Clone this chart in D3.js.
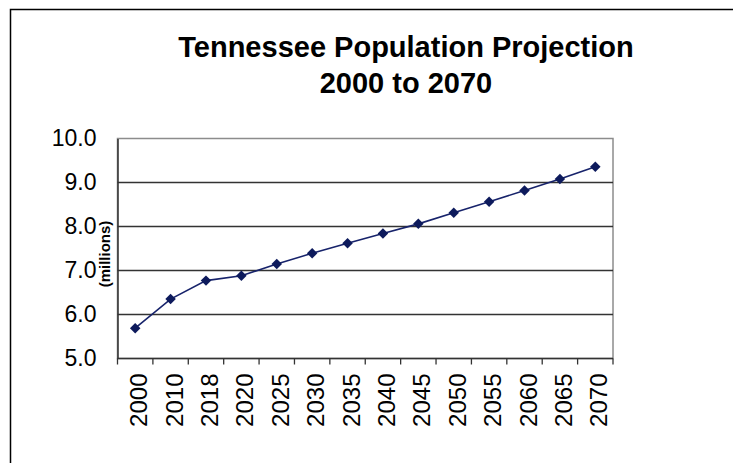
<!DOCTYPE html>
<html>
<head>
<meta charset="utf-8">
<script src="https://cdn.jsdelivr.net/npm/d3@7"></script>
<style>
  html, body { margin: 0; padding: 0; background: #fff; }
  #container { width: 733px; height: 463px; }
  text { font-family: "Liberation Sans", Arial, sans-serif; }
</style>
</head>
<body>
<div id="container"></div>
<script>
const years = ["2000", "2010", "2018", "2020", "2025", "2030", "2035", "2040", "2045", "2050", "2055", "2060", "2065", "2070"];
const population = [5.69, 6.35, 6.77, 6.88, 7.15, 7.39, 7.62, 7.84, 8.06, 8.31, 8.56, 8.82, 9.08, 9.36];
const yTicks = [5, 6, 7, 8, 9, 10];
const titleLines = ["Tennessee Population Projection", "2000 to 2070"];

const W = 733, H = 463;
const margin = {top: 138.5, right: 120, bottom: 104.5, left: 117.5};
const width = W - margin.left - margin.right;
const height = H - margin.top - margin.bottom;

const root = d3.select("#container")
  .append("svg")
  .attr("width", W)
  .attr("height", H);

// outer chart frame (runs off right and bottom edge)
root.append("rect")
  .attr("x", 10.5)
  .attr("y", 9.5)
  .attr("width", W + 20)
  .attr("height", H + 20)
  .attr("fill", "none")
  .attr("stroke", "#000")
  .attr("stroke-width", 1.5);

root.selectAll(".title")
  .data(titleLines)
  .enter()
  .append("text")
  .attr("x", 406)
  .attr("y", (d, i) => 57 + i * 36)
  .attr("text-anchor", "middle")
  .attr("font-size", "29px")
  .attr("font-weight", "bold")
  .attr("fill", "#000")
  .text(d => d);

const svg = root.append("g")
  .attr("transform", `translate(${margin.left},${margin.top})`);

const x = d3.scaleBand()
  .domain(years)
  .range([0, width]);

const y = d3.scaleLinear()
  .domain([5, 10])
  .range([height, 0]);

// plot area border (top/right grey)
svg.append("rect")
  .attr("x", 0)
  .attr("y", 0)
  .attr("width", width)
  .attr("height", height)
  .attr("fill", "none")
  .attr("stroke", "#8c8c8c")
  .attr("stroke-width", 1.5);

// gridlines
svg.selectAll(".grid")
  .data(yTicks.slice(1, -1))
  .enter()
  .append("line")
  .attr("x1", 0)
  .attr("x2", width)
  .attr("y1", d => y(d))
  .attr("y2", d => y(d))
  .attr("stroke", "#333")
  .attr("stroke-width", 1.3);

// y axis
const yAxis = svg.append("g")
  .call(d3.axisLeft(y).tickValues(yTicks).tickFormat(d3.format(".1f")).tickSize(0).tickPadding(21));
yAxis.select(".domain").attr("stroke", "#333").attr("stroke-width", 1.5);
yAxis.selectAll("text")
  .attr("font-size", "23px")
  .attr("fill", "#000")
  .attr("font-family", "Liberation Sans, Arial, sans-serif");

// x axis with ticks between categories
const xAxis = svg.append("g")
  .attr("transform", `translate(0,${height})`);
xAxis.append("line")
  .attr("x1", 0)
  .attr("x2", width)
  .attr("stroke", "#333")
  .attr("stroke-width", 1.5);
xAxis.selectAll(".xtick")
  .data(years.concat(["end"]))
  .enter()
  .append("line")
  .attr("x1", (d, i) => i < years.length ? x(d) : width)
  .attr("x2", (d, i) => i < years.length ? x(d) : width)
  .attr("y1", 0)
  .attr("y2", 6)
  .attr("stroke", "#333")
  .attr("stroke-width", 1.3);
xAxis.selectAll(".xlabel")
  .data(years)
  .enter()
  .append("text")
  .attr("transform", d => `translate(${x(d) + x.bandwidth() / 2 + 12},15) rotate(-90)`)
  .attr("text-anchor", "end")
  .attr("font-size", "24px")
  .attr("fill", "#000")
  .text(d => d);

// y axis title
root.append("text")
  .attr("transform", "translate(110,254) rotate(-90)")
  .attr("text-anchor", "middle")
  .attr("font-size", "15px")
  .attr("font-weight", "bold")
  .attr("fill", "#000")
  .text("(millions)");

// line + diamond markers
const points = years.map((yr, i) => ({year: yr, value: population[i]}));

svg.append("path")
  .datum(points)
  .attr("fill", "none")
  .attr("stroke", "#17236b")
  .attr("stroke-width", 1.6)
  .attr("d", d3.line()
    .x(d => x(d.year) + x.bandwidth() / 2)
    .y(d => y(d.value)));

svg.selectAll(".marker")
  .data(points)
  .enter()
  .append("path")
  .attr("transform", d => `translate(${x(d.year) + x.bandwidth() / 2},${y(d.value)})`)
  .attr("d", d3.symbol().type(d3.symbolDiamond2).size(70))
  .attr("fill", "#0d1a5c");
</script>
</body>
</html>
